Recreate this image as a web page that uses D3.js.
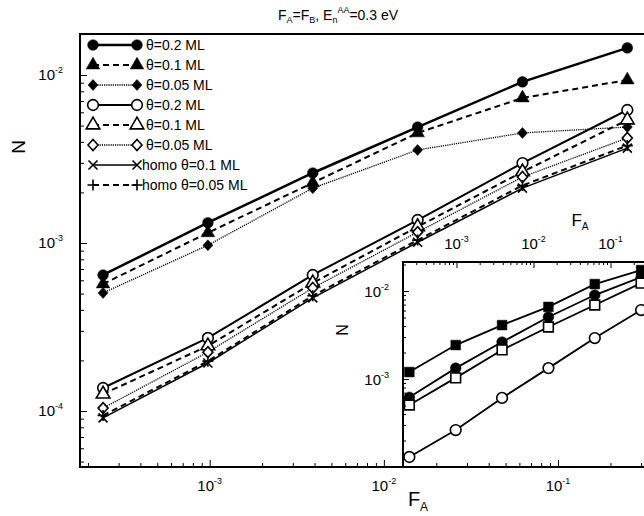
<!DOCTYPE html>
<html>
<head>
<meta charset="utf-8">
<style>
  body { margin: 0; background: #fff; }
  svg { font-family: "Liberation Sans", Arial, sans-serif; background: #fff; }
  .frame { fill: none; stroke: #000; stroke-width: 2px; }
  .axis path { display: none; }
  .axis line { stroke: #000; stroke-width: 1px; }
  .series { fill: none; stroke: #000; }
</style>
<script src="https://cdn.jsdelivr.net/npm/d3@7"></script>
</head>
<body>
<div id="chart"></div>
<script>
// coverage F_A, same for every series (powers of 4)
var F = [1 / 4096, 1 / 1024, 1 / 256, 1 / 64, 1 / 16, 1 / 4];

// main panel, N values
var filled02 = [6.45e-4, 1.32e-3, 2.61e-3, 4.9e-3, 9.1e-3, 1.45e-2];
var filled01 = [5.7e-4, 1.15e-3, 2.28e-3, 4.52e-3, 7.3e-3, 9.34e-3];
var filled005 = [5.04e-4, 9.7e-4, 2.12e-3, 3.58e-3, 4.52e-3, 4.9e-3];
var open02 = [1.37e-4, 2.72e-4, 6.45e-4, 1.37e-3, 2.99e-3, 6.19e-3];
var open01 = [1.26e-4, 2.44e-4, 5.78e-4, 1.25e-3, 2.65e-3, 5.4e-3];
var open005 = [1.04e-4, 2.24e-4, 5.4e-4, 1.16e-3, 2.47e-3, 4.22e-3];
var homo01 = [9.1e-5, 1.93e-4, 4.71e-4, 1.01e-3, 2.12e-3, 3.67e-3];
var homo005 = [9.4e-5, 1.98e-4, 4.85e-4, 1.04e-3, 2.2e-3, 3.8e-3];

var legendLabels = ["\u03b8=0.2 ML", "\u03b8=0.1 ML", "\u03b8=0.05 ML", "\u03b8=0.2 ML",
  "\u03b8=0.1 ML", "\u03b8=0.05 ML", "homo \u03b8=0.1 ML", "homo \u03b8=0.05 ML"];

// inset panel, N values
var insetSqFilled = [1.2e-3, 2.43e-3, 4.1e-3, 6.6e-3, 1.2e-2, 1.73e-2];
var insetCircFilled = [6.2e-4, 1.33e-3, 2.63e-3, 5.07e-3, 9.0e-3, 1.44e-2];
var insetSqOpen = [5.07e-4, 1.03e-3, 2.14e-3, 3.9e-3, 6.93e-3, 1.23e-2];
var insetCircOpen = [1.3e-4, 2.63e-4, 6.1e-4, 1.33e-3, 2.92e-3, 6.08e-3];

// tick labels (decades)
var xMajor = [1e-3, 1e-2, 1e-1], xExp = ["-3", "-2", "-1"];
var yMajor = [1e-4, 1e-3, 1e-2], yExp = ["-4", "-3", "-2"];
var insetYMajor = [1e-3, 1e-2], insetYExp = ["-3", "-2"];

var width = 644, height = 516;

var svg = d3.select("#chart").append("svg")
  .attr("width", width)
  .attr("height", height);

var x = d3.scaleLog().domain([1.8e-4, 0.32]).range([80, 646]);
var y = d3.scaleLog().domain([4.64e-5, 0.01754]).range([467, 34]);

var xi = d3.scaleLog().domain([2.02e-4, 0.289]).range([403, 646]);
var yi = d3.scaleLog().domain([1e-4, 0.02138]).range([467, 262]);

function marker(type) {
  if (type == "x") return "M-4.5,-4.5L4.5,4.5M-4.5,4.5L4.5,-4.5";
  if (type == "plus") return "M-5.5,0H5.5M0,-5.5V5.5";
  if (type == "diamond") return "M0,-5.5L5,0L0,5.5L-5,0Z";
  var sym = { circle: d3.symbolCircle, triangle: d3.symbolTriangle,
    square: d3.symbolSquare }[type];
  var size = { circle: 90, triangle: 80, square: 95 }[type];
  return d3.symbol(sym, size)();
}

function drawMarker(g, type, fill, px, py) {
  var p = g.append("path")
    .attr("d", marker(type))
    .attr("transform", "translate(" + px + "," + py + ")")
    .attr("stroke", "#000");
  if (type == "x" || type == "plus") p.attr("fill", "none").attr("stroke-width", 1.6);
  else if (fill) p.attr("fill", "#000").attr("stroke-width", 0.5);
  else p.attr("fill", "#fff").attr("stroke-width", 1.6);
}

var mainSeries = [
  { v: filled02, m: "circle", fill: true, w: 2.5, dash: null },
  { v: filled01, m: "triangle", fill: true, w: 2, dash: "6,4" },
  { v: filled005, m: "diamond", fill: true, w: 1.3, dash: "1.2,1" },
  { v: open02, m: "circle", fill: false, w: 2, dash: null },
  { v: open01, m: "triangle", fill: false, w: 2, dash: "6,4" },
  { v: open005, m: "diamond", fill: false, w: 1.3, dash: "1.2,1" },
  { v: homo01, m: "x", fill: false, w: 1.5, dash: null },
  { v: homo005, m: "plus", fill: false, w: 2, dash: "6,4" }
];

var line = d3.line()
  .x(function (d) { return x(d[0]); })
  .y(function (d) { return y(d[1]); });

var gMain = svg.append("g");
mainSeries.forEach(function (s) {
  var pts = F.map(function (f, i) { return [f, s.v[i]]; });
  gMain.append("path")
    .datum(pts)
    .attr("class", "series")
    .attr("stroke-width", s.w)
    .attr("stroke-dasharray", s.dash)
    .attr("d", line);
  pts.forEach(function (d) { drawMarker(gMain, s.m, s.fill, x(d[0]), y(d[1])); });
});

// legend
var leg = svg.append("g");
mainSeries.forEach(function (s, i) {
  var ly = 45 + i * 20;
  leg.append("line")
    .attr("x1", 93).attr("x2", 137).attr("y1", ly).attr("y2", ly)
    .attr("stroke", "#000")
    .attr("stroke-width", s.w)
    .attr("stroke-dasharray", s.dash);
  drawMarker(leg, s.m, s.fill, 93, ly);
  drawMarker(leg, s.m, s.fill, 137, ly);
  leg.append("text")
    .attr("x", i >= 6 ? 142 : 146).attr("y", ly + 5)
    .attr("font-size", 14)
    .text(legendLabels[i]);
});

// inset
var gIn = svg.append("g");
gIn.append("rect")
  .attr("x", 403).attr("y", 262).attr("width", 300).attr("height", 205)
  .attr("fill", "#fff");

var insetSeries = [
  { v: insetSqFilled, m: "square", fill: true },
  { v: insetCircFilled, m: "circle", fill: true },
  { v: insetSqOpen, m: "square", fill: false },
  { v: insetCircOpen, m: "circle", fill: false }
];
var lineIn = d3.line()
  .x(function (d) { return xi(d[0]); })
  .y(function (d) { return yi(d[1]); });
insetSeries.forEach(function (s) {
  var pts = F.map(function (f, i) { return [f, s.v[i]]; });
  gIn.append("path")
    .datum(pts)
    .attr("class", "series")
    .attr("stroke-width", 1.8)
    .attr("d", lineIn);
  pts.forEach(function (d) { drawMarker(gIn, s.m, s.fill, xi(d[0]), yi(d[1])); });
});

function minorOf(scale, majors) {
  return scale.ticks().filter(function (t) {
    return !majors.some(function (m) { return Math.abs(t / m - 1) < 1e-6; });
  });
}

// inset axes: ticks on top and left
gIn.append("g").attr("class", "axis").attr("transform", "translate(0,262)")
  .call(d3.axisTop(xi).tickValues(xMajor).tickSize(-6).tickFormat(""));
gIn.append("g").attr("class", "axis").attr("transform", "translate(0,262)")
  .call(d3.axisTop(xi).tickValues(minorOf(xi, xMajor)).tickSize(-3).tickFormat(""));
gIn.append("g").attr("class", "axis").attr("transform", "translate(403,0)")
  .call(d3.axisLeft(yi).tickValues(insetYMajor).tickSize(-6).tickFormat(""));
gIn.append("g").attr("class", "axis").attr("transform", "translate(403,0)")
  .call(d3.axisLeft(yi).tickValues(minorOf(yi, insetYMajor.concat([1e-4]))).tickSize(-3).tickFormat(""));
gIn.append("rect").attr("class", "frame")
  .attr("x", 403).attr("y", 262).attr("width", 300).attr("height", 205);

// main axes
svg.append("g").attr("class", "axis").attr("transform", "translate(0,467)")
  .call(d3.axisBottom(x).tickValues(xMajor).tickSize(-7).tickFormat(""));
svg.append("g").attr("class", "axis").attr("transform", "translate(0,467)")
  .call(d3.axisBottom(x).tickValues(minorOf(x, xMajor)).tickSize(-4).tickFormat(""));
svg.append("g").attr("class", "axis").attr("transform", "translate(80,0)")
  .call(d3.axisLeft(y).tickValues(yMajor).tickSize(-7).tickFormat(""));
svg.append("g").attr("class", "axis").attr("transform", "translate(80,0)")
  .call(d3.axisLeft(y).tickValues(minorOf(y, yMajor)).tickSize(-4).tickFormat(""));
svg.append("rect").attr("class", "frame")
  .attr("x", 80).attr("y", 34).attr("width", 600).attr("height", 433);

// power-of-ten labels
function powLabel(px, py, exp, size, anchor) {
  var t = svg.append("text")
    .attr("x", px).attr("y", py)
    .attr("text-anchor", anchor)
    .attr("font-size", size);
  t.append("tspan").text("10");
  t.append("tspan").attr("dy", -size * 0.45).attr("font-size", size * 0.6).text(exp);
}
xMajor.forEach(function (v, i) { powLabel(x(v), 491, xExp[i], 15, "middle"); });
yMajor.forEach(function (v, i) { powLabel(63, y(v) + 5, yExp[i], 15, "end"); });
xMajor.forEach(function (v, i) { powLabel(xi(v), 249, xExp[i], 15, "middle"); });
insetYMajor.forEach(function (v, i) { powLabel(389, yi(v) + 6, insetYExp[i], 15, "end"); });

// axis titles
function fa(px, py, size) {
  var t = svg.append("text").attr("x", px).attr("y", py)
    .attr("text-anchor", "middle").attr("font-size", size);
  t.append("tspan").text("F");
  t.append("tspan").attr("dy", size * 0.25).attr("font-size", size * 0.6).text("A");
}
fa(418, 506, 20);
fa(580, 226, 17);

svg.append("text")
  .attr("transform", "translate(25,147) rotate(-90)")
  .attr("text-anchor", "middle").attr("font-size", 19).text("N");
svg.append("text")
  .attr("transform", "translate(348,330) rotate(-90)")
  .attr("text-anchor", "middle").attr("font-size", 16).text("N");

// title
var title = svg.append("text").attr("x", 338).attr("y", 20)
  .attr("text-anchor", "middle").attr("font-size", 14);
title.append("tspan").text("F");
title.append("tspan").attr("dy", 3).attr("font-size", 9).text("A");
title.append("tspan").attr("dy", -3).text("=F");
title.append("tspan").attr("dy", 3).attr("font-size", 9).text("B");
title.append("tspan").attr("dy", -3).text(", E");
title.append("tspan").attr("dy", 3).attr("font-size", 9).text("n");
title.append("tspan").attr("dy", -10).attr("font-size", 9).text("AA");
title.append("tspan").attr("dy", 7).text("=0.3 eV");
</script>
</body>
</html>
